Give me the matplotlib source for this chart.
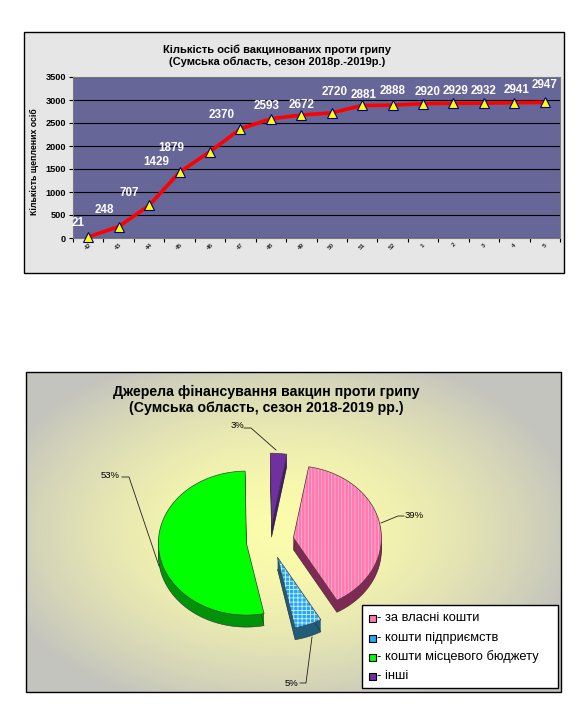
import numpy as np
import matplotlib
matplotlib.use('Agg')
import matplotlib.pyplot as plt
from matplotlib.patches import Polygon, Rectangle

plt.rcParams['font.family'] = ['Liberation Sans', 'DejaVu Sans']
plt.rcParams['hatch.linewidth'] = 0.6

# ---------------- data ----------------
weeks = ['42', '43', '44', '45', '46', '47', '48', '49', '50', '51', '52',
         '1', '2', '3', '4', '5']
vaccinated = [21, 248, 707, 1429, 1879, 2370, 2593, 2672, 2720, 2881, 2888,
              2920, 2929, 2932, 2941, 2947]
y_ticks = [0, 500, 1000, 1500, 2000, 2500, 3000, 3500]

sources = ['за власні кошти', 'кошти підприємств', 'кошти місцевого бюджету', 'інші']
shares = [39, 5, 53, 3]

title_line = 'Кількість осіб вакцинованих проти грипу\n(Сумська область, сезон 2018р.-2019р.)'
title_pie = 'Джерела фінансування вакцин проти грипу\n(Сумська область, сезон 2018-2019 рр.)'
ylabel_line = 'Кількість щеплених осіб'

# ---------------- styling / placement ----------------
label_offsets = [(-10, 14), (-14, 17), (-20, 12), (-23, 10), (-39, 4), (-19, 14),
                 (-4, 13), (0, 10), (3, 21), (1, 10), (0, 14), (5, 12), (2, 12),
                 (0, 12), (2, 13), (0, 17)]

W, H = 583, 710
fig = plt.figure(figsize=(W / 100, H / 100), dpi=100)
fig.patch.set_facecolor('white')

bg = fig.add_axes([0, 0, 1, 1], zorder=0)
bg.set_xlim(0, W)
bg.set_ylim(H, 0)
bg.axis('off')

# ---- top frame ----
bg.add_patch(Rectangle((24, 32), 540, 241, facecolor='#e6e6e6', edgecolor='black', lw=1.0, zorder=0))
bg.text(277, 56, title_line, ha='center', va='center', fontsize=8.0, fontweight='bold',
        linespacing=1.2, zorder=2)

# ---- bottom frame with radial gradient ----
x0, y0, x1, y1 = 26, 372, 561, 692
gx = np.linspace(x0, x1, 300)
gy = np.linspace(y0, y1, 200)
GX, GY = np.meshgrid(gx, gy)
t = np.sqrt(((GX - 280) / 300) ** 2 + ((GY - 530) / 190) ** 2)
t = np.clip(t, 0, 1) ** 1.7
c_in = np.array([252, 252, 172]) / 255
c_out = np.array([196, 196, 190]) / 255
img = c_in[None, None, :] * (1 - t[..., None]) + c_out[None, None, :] * t[..., None]
bg.imshow(img, extent=(x0, x1, y1, y0), aspect='auto', zorder=0.5, interpolation='bilinear')
bg.add_patch(Rectangle((x0, y0), x1 - x0, y1 - y0, fill=False, edgecolor='black', lw=1.0, zorder=1))
bg.set_xlim(0, W)
bg.set_ylim(H, 0)
bg.text(266, 400, title_pie, ha='center', va='center', fontsize=10.2, fontweight='bold',
        linespacing=1.1, zorder=2)

# ---- 3D exploded pie ----
cx, cy, rx, ry, depth = 270, 541, 88, 72, 12
explode = [0.27, 0.24, 0.27, 0.22]
top_colors = ['#ff78b0', '#22a8f4', '#00ff00', '#7030a0']
side_colors = ['#7e2a55', '#1f5d78', '#00930a', '#47186e']
hatches = ['|||||', '++++', None, None]
hatch_cols = [(1, 1, 1, 0.45), (1, 1, 1, 0.8), None, None]
start = 10.0
total = float(sum(shares))
spans = [s / total * 360 for s in shares]
bounds = []
a = start
for sp in spans:
    bounds.append((a, a + sp))
    a += sp


def wedge_pts(a0, a1, ox, oy):
    th = np.radians(np.linspace(a0, a1, 120))
    xs = ox + rx * np.sin(th)
    ys = oy - ry * np.cos(th)
    return np.vstack([[ox, oy], np.column_stack([xs, ys])])


draw_order = [3, 0, 2, 1]
slice_geom = {}
for i in range(len(shares)):
    a0, a1 = bounds[i]
    mid = np.radians((a0 + a1) / 2)
    ox = cx + explode[i] * rx * np.sin(mid)
    oy = cy - explode[i] * ry * np.cos(mid)
    slice_geom[i] = (a0, a1, ox, oy)

for z, i in enumerate(draw_order):
    a0, a1, ox, oy = slice_geom[i]
    pts = wedge_pts(a0, a1, ox, oy)
    zb = 3 + z
    for k in range(depth, 0, -1):
        bg.add_patch(Polygon(pts + [0, k], closed=True, facecolor=side_colors[i],
                             edgecolor='none', zorder=zb))
    bg.add_patch(Polygon(pts + [0, depth], closed=True, fill=False,
                         edgecolor='#303030', lw=0.4, zorder=zb + 0.1))
    bg.add_patch(Polygon(pts, closed=True, facecolor=top_colors[i], edgecolor='none',
                         zorder=zb + 0.2))
    if hatches[i]:
        bg.add_patch(Polygon(pts, closed=True, fill=False, hatch=hatches[i],
                             edgecolor=hatch_cols[i], lw=0, zorder=zb + 0.3))
    bg.add_patch(Polygon(pts, closed=True, fill=False, edgecolor='#404040', lw=0.5,
                         zorder=zb + 0.4))

# percentage labels with leader lines
pct_text = [f'{v}%' for v in shares]
pct_pos = [(414, 515), (292, 683), (110, 475), (237, 426)]
leaders = [[(404, 516), (398, 516), (381, 523)],
           [(300, 683), (306, 683), (312, 637)],
           [(122, 477), (129, 477), (159, 566)],
           [(244, 428), (251, 428), (276, 450)]]
for i in range(len(shares)):
    bg.text(pct_pos[i][0], pct_pos[i][1], pct_text[i], ha='center', va='center',
            fontsize=6.8, zorder=20)
    xs, ys = zip(*leaders[i])
    bg.plot(xs, ys, color='#202020', lw=0.6, zorder=20)

# legend
bg.add_patch(Rectangle((362, 605), 196, 83, facecolor='white', edgecolor='black', lw=1.0, zorder=20))
leg_y = [618, 638, 657, 676]
for i, name in enumerate(sources):
    bg.add_patch(Rectangle((368.5, leg_y[i] - 3.5), 7, 7, facecolor=top_colors[i],
                           edgecolor='black', lw=0.8, zorder=21))
    bg.text(377, leg_y[i], '- ' + name, ha='left', va='center', fontsize=9.3, zorder=21)

# ---------------- line chart ----------------
L, R, T, B = 73, 560, 77, 238
ax = fig.add_axes([L / W, 1 - B / H, (R - L) / W, (B - T) / H], zorder=5)
ax.set_facecolor('#666699')
xpos = np.arange(len(weeks))
ax.set_xlim(-0.5, len(weeks) - 0.5)
ax.set_ylim(y_ticks[0], y_ticks[-1])
ax.set_yticks(y_ticks)
ax.set_yticklabels([str(v) for v in y_ticks], fontsize=6.6, fontweight='bold')
ax.set_xticks(np.arange(-0.5, len(weeks), 1.0))
ax.set_xticklabels([])
ax.set_xticks(xpos, minor=True)
ax.set_xticklabels(weeks, minor=True, fontsize=4.6, fontweight='bold', rotation=45,
                   ha='center', va='top', color='#303030')
ax.tick_params(axis='x', which='minor', length=0, pad=3)
ax.tick_params(axis='x', which='major', length=3, direction='out', color='black')
ax.tick_params(axis='y', length=3, direction='out', color='black', pad=2)
ax.yaxis.grid(True, color='black', lw=0.8)
ax.set_axisbelow(True)
for s in ['top', 'right', 'left', 'bottom']:
    ax.spines[s].set_color('#7a7a7a')
    ax.spines[s].set_linewidth(0.8)

ax.plot(xpos, vaccinated, color='#ff0000', lw=2.6, zorder=3, clip_on=False)
ax.plot(xpos, vaccinated, ls='none', marker='^', ms=7.5, mfc='#ffff00', mec='#000080',
        mew=0.8, zorder=4, clip_on=False)
for i, v in enumerate(vaccinated):
    ax.annotate(str(v), (xpos[i], v), xytext=label_offsets[i], textcoords='offset pixels',
                ha='center', va='center', color='white', fontweight='bold', fontsize=8.4,
                annotation_clip=False, zorder=6)

fig.text(34 / W, 1 - 162 / H, ylabel_line, rotation=90, ha='center', va='center',
         fontsize=6.3, fontweight='bold', zorder=6)

fig.savefig('out.png', dpi=100)
